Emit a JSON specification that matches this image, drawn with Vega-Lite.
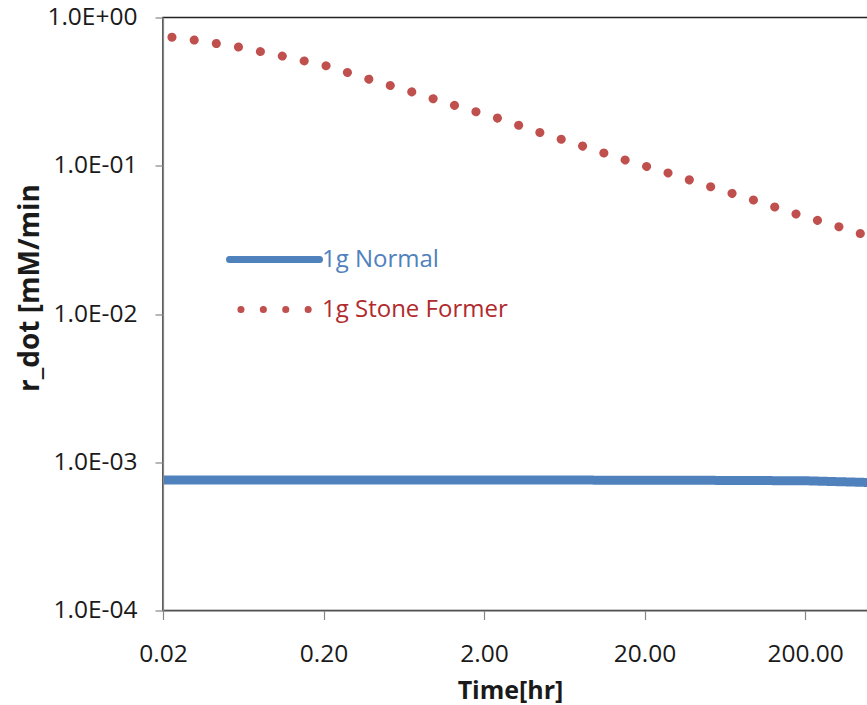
{
  "$schema": "https://vega.github.io/schema/vega-lite/v6.json",
  "autosize": {"type": "none"},
  "padding": {"left": 163, "top": 17.5, "right": 0, "bottom": 94},
  "width": 706,
  "height": 593,
  "background": "white",
  "config": {
    "font": "Open Sans",
    "view": {"stroke": "#222222", "strokeWidth": 1.5}
  },
  "data": {
    "values": [
      {"series": "1g Normal", "t": 0.02, "r": 0.00076},
      {"series": "1g Normal", "t": 2, "r": 0.00076},
      {"series": "1g Normal", "t": 50, "r": 0.000755},
      {"series": "1g Normal", "t": 200, "r": 0.00075},
      {"series": "1g Normal", "t": 500, "r": 0.00073},
      {"series": "1g Stone Former", "t": 0.02, "r": 0.75},
      {"series": "1g Stone Former", "t": 0.0312, "r": 0.705},
      {"series": "1g Stone Former", "t": 0.0587, "r": 0.633},
      {"series": "1g Stone Former", "t": 0.11, "r": 0.55},
      {"series": "1g Stone Former", "t": 0.21, "r": 0.471},
      {"series": "1g Stone Former", "t": 0.379, "r": 0.385},
      {"series": "1g Stone Former", "t": 0.712, "r": 0.3145},
      {"series": "1g Stone Former", "t": 1.282, "r": 0.257},
      {"series": "1g Stone Former", "t": 2.41, "r": 0.21},
      {"series": "1g Stone Former", "t": 4.34, "r": 0.169},
      {"series": "1g Stone Former", "t": 8.16, "r": 0.136},
      {"series": "1g Stone Former", "t": 15.1, "r": 0.1094},
      {"series": "1g Stone Former", "t": 28.0, "r": 0.0894},
      {"series": "1g Stone Former", "t": 51.9, "r": 0.072},
      {"series": "1g Stone Former", "t": 94.8, "r": 0.0588},
      {"series": "1g Stone Former", "t": 175.8, "r": 0.0473},
      {"series": "1g Stone Former", "t": 325.7, "r": 0.0387},
      {"series": "1g Stone Former", "t": 500, "r": 0.0334}
    ]
  },
  "mark": {"type": "line", "strokeWidth": 9, "strokeCap": "round", "strokeDashOffset": 13.4, "clip": true},
  "encoding": {
    "x": {
      "field": "t", "type": "quantitative",
      "scale": {"type": "log", "domain": [0.02, 500], "nice": false},
      "axis": {
        "values": [0.02, 0.2, 2, 20, 200],
        "format": ".2f",
        "grid": false,
        "zindex": 1,
        "domainColor": "#868686", "domainWidth": 1.2,
        "tickColor": "#868686", "tickSize": 9, "tickWidth": 1.2,
        "labelFont": "Open Sans", "labelFontSize": 24.5, "labelColor": "#1a1a1a",
        "labelPadding": 23,
        "labelFlush": false,
        "title": "Time[hr]",
        "titleFont": "Open Sans", "titleFontSize": 25, "titleFontWeight": "bold", "titleColor": "#1a1a1a",
        "titleX": 347, "titleY": 80, "titleBaseline": "middle"
      }
    },
    "y": {
      "field": "r", "type": "quantitative",
      "scale": {"type": "log", "domain": [0.0001, 1], "nice": false},
      "axis": {
        "values": [0.0001, 0.001, 0.01, 0.1, 1],
        "labelExpr": "'1.0E' + (round(log(datum.value)/LN10) < 0 ? '-' : '+') + '0' + abs(round(log(datum.value)/LN10))",
        "grid": false,
        "zindex": 1,
        "domainColor": "#868686", "domainWidth": 1.2,
        "tickColor": "#868686", "tickSize": 8, "tickWidth": 1.2,
        "labelFont": "Open Sans", "labelFontSize": 24.5, "labelColor": "#1a1a1a",
        "labelPadding": 18,
        "labelFlush": false,
        "title": "r_dot [mM/min",
        "titleFont": "Open Sans", "titleFontSize": 28, "titleFontWeight": "bold", "titleColor": "#1a1a1a",
        "titleX": -133, "titleY": 270, "titleBaseline": "middle", "titleAngle": -90, "titleAlign": "center"
      }
    },
    "color": {
      "field": "series", "type": "nominal",
      "scale": {"domain": ["1g Normal", "1g Stone Former"], "range": ["#4F81BD", "#C0504D"]},
      "legend": {
        "orient": "none", "legendX": 63, "legendY": 227,
        "title": null,
        "symbolType": "stroke", "symbolSize": 8100, "symbolStrokeWidth": 7,
        "labelFont": "Open Sans", "labelFontSize": 24, "labelLimit": 400,
        "labelColor": {"expr": "datum.label == '1g Normal' ? '#4F81BD' : '#B02A2E'"},
        "labelOffset": -1, "rowPadding": 20, "padding": 0,
        "clipHeight": 30,
        "encoding": {
          "symbols": {
            "strokeCap": {"value": "round"},
            "strokeDashOffset": {"value": 11}
          }
        }
      }
    },
    "strokeDash": {
      "field": "series", "type": "nominal",
      "scale": {"domain": ["1g Normal", "1g Stone Former"], "range": [[1, 0], [0.1, 22.3]]}
    }
  }
}
